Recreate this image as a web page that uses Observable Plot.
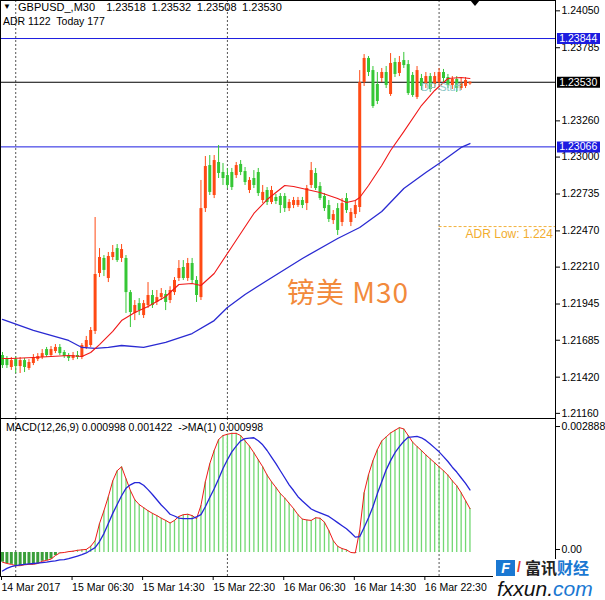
<!DOCTYPE html>
<html><head><meta charset="utf-8">
<script src="https://cdn.jsdelivr.net/npm/d3@7"></script>
<script src="https://cdn.jsdelivr.net/npm/@observablehq/plot@0.6"></script>
<style>
body{margin:0;background:#fff;}
#wrap{position:relative;width:605px;height:600px;overflow:hidden;font-family:"Liberation Sans",Arial,sans-serif;color:#000;}
.abs{position:absolute;white-space:pre;line-height:1.15;}
#wrap svg{position:absolute;left:0;overflow:visible;}
</style></head><body><div id="wrap"></div>
<script>
// ---- data ----
const opens = [1.21568,1.21547,1.21482,1.21539,1.21489,1.21532,1.21475,1.21511,1.21539,1.21554,
1.21611,1.21568,1.21597,1.21626,1.21590,1.21568,1.21547,1.21568,1.21554,1.21626,
1.21640,1.21741,1.22157,1.22265,1.22121,1.22272,1.22336,1.22265,1.22265,1.22020,
1.21870,1.21941,1.21855,1.21927,1.21999,1.21949,1.21984,1.22006,1.21963,1.22020,
1.22121,1.22200,1.22121,1.22229,1.22107,1.21984,1.22623,1.22932,1.22717,1.22954,
1.22882,1.22860,1.22882,1.22860,1.22940,1.22889,1.22753,1.22839,1.22882,1.22681,
1.22753,1.22667,1.22703,1.22710,1.22710,1.22623,1.22645,1.22645,1.22681,1.22659,
1.22789,1.22875,1.22782,1.22710,1.22645,1.22537,1.22623,1.22523,1.22695,1.22523,
1.22580,1.22631,1.23528,1.23701,1.23614,1.23514,1.23557,1.23600,1.23442,1.23672,
1.23593,1.23686,1.23657,1.23579,1.23421,1.23557,1.23514,1.23571,1.23514,1.23528,
1.23600,1.23564,1.23507,1.23550,1.23485,1.23500,1.23518];
const closes = [1.21496,1.21496,1.21532,1.21489,1.21532,1.21482,1.21518,1.21554,1.21561,1.21582,
1.21568,1.21611,1.21626,1.21582,1.21561,1.21547,1.21568,1.21554,1.21640,1.21676,
1.21748,1.22150,1.22272,1.22179,1.22279,1.22308,1.22250,1.22329,1.22020,1.21877,
1.21927,1.21891,1.21941,1.21999,1.21927,1.21984,1.22013,1.21949,1.22035,1.22107,
1.22193,1.22121,1.22229,1.22107,1.21999,1.22623,1.22925,1.22739,1.22968,1.22875,
1.22839,1.22789,1.22774,1.22932,1.22882,1.22810,1.22825,1.22789,1.22731,1.22739,
1.22667,1.22753,1.22674,1.22645,1.22623,1.22667,1.22681,1.22681,1.22645,1.22767,
1.22896,1.22767,1.22695,1.22623,1.22545,1.22580,1.22466,1.22659,1.22609,1.22595,
1.22645,1.23528,1.23701,1.23600,1.23356,1.23392,1.23600,1.23507,1.23665,1.23586,
1.23672,1.23650,1.23449,1.23435,1.23614,1.23500,1.23571,1.23478,1.23571,1.23600,
1.23557,1.23507,1.23550,1.23485,1.23521,1.23543,1.23530];
const highs = [1.21590,1.21561,1.21554,1.21561,1.21554,1.21547,1.21539,1.21575,1.21582,1.21611,
1.21626,1.21633,1.21647,1.21647,1.21604,1.21582,1.21590,1.21597,1.21654,1.21705,
1.21769,1.22559,1.22336,1.22286,1.22308,1.22358,1.22365,1.22365,1.22286,1.22035,
1.21963,1.21977,1.21963,1.22092,1.22035,1.22035,1.22049,1.22035,1.22062,1.22128,
1.22250,1.22250,1.22265,1.22265,1.22135,1.22825,1.22997,1.23004,1.23004,1.23076,
1.22947,1.22911,1.22911,1.22954,1.22968,1.22918,1.22846,1.22896,1.22911,1.22789,
1.22774,1.22782,1.22724,1.22731,1.22731,1.22688,1.22703,1.22703,1.22703,1.22789,
1.22954,1.22911,1.22810,1.22731,1.22681,1.22609,1.22659,1.22695,1.22731,1.22623,
1.22681,1.23614,1.23729,1.23715,1.23643,1.23600,1.23629,1.23643,1.23736,1.23701,
1.23715,1.23744,1.23686,1.23600,1.23643,1.23586,1.23600,1.23593,1.23600,1.23629,
1.23622,1.23586,1.23571,1.23571,1.23557,1.23564,1.23532];
const lows = [1.21475,1.21475,1.21461,1.21439,1.21439,1.21446,1.21461,1.21496,1.21525,1.21539,
1.21554,1.21554,1.21582,1.21568,1.21547,1.21525,1.21532,1.21539,1.21539,1.21611,
1.21626,1.21719,1.22128,1.22135,1.22092,1.22250,1.22236,1.22236,1.21870,1.21769,
1.21819,1.21855,1.21834,1.21906,1.21906,1.21927,1.21963,1.21891,1.21941,1.21999,
1.22100,1.22107,1.22100,1.22085,1.21949,1.21963,1.22595,1.22717,1.22695,1.22839,
1.22789,1.22767,1.22753,1.22839,1.22860,1.22789,1.22731,1.22767,1.22710,1.22659,
1.22645,1.22652,1.22652,1.22588,1.22595,1.22602,1.22623,1.22631,1.22623,1.22609,
1.22767,1.22753,1.22681,1.22602,1.22523,1.22509,1.22430,1.22494,1.22588,1.22494,
1.22552,1.22595,1.23500,1.23571,1.23342,1.23370,1.23528,1.23485,1.23428,1.23564,
1.23571,1.23629,1.23435,1.23421,1.23406,1.23471,1.23485,1.23457,1.23485,1.23507,
1.23528,1.23485,1.23478,1.23457,1.23471,1.23485,1.23508];

const redMaIdx = [0,2,7,11,15,18,20,22,25,27,30,33,37,40,43,45,48,51,54,57,60,64,66,68,70,72,76,78,80,81,83,86,88,91,95,98,101,104,106];
const redMaVal = [1.21547,1.21547,1.21554,1.21561,1.21568,1.21561,1.21590,1.21647,1.21741,1.21819,
1.21877,1.21920,1.21992,1.22078,1.22085,1.22071,1.22157,1.22301,1.22444,1.22588,
1.22688,1.22789,1.22782,1.22767,1.22753,1.22739,1.22695,1.22667,1.22681,1.22703,
1.22789,1.22932,1.23040,1.23176,1.23363,1.23471,1.23557,1.23564,1.23557];
const blueMaIdx = [0,7,15,18,21,24,27,32,37,43,48,51,55,60,68,76,81,86,91,96,99,104,106];
const blueMaVal = [1.21827,1.21748,1.21676,1.21626,1.21619,1.21626,1.21640,1.21626,1.21662,1.21726,
1.21819,1.21913,1.22006,1.22107,1.22265,1.22408,1.22487,1.22602,1.22767,1.22882,1.22947,1.23062,1.23090];

const macd = [-0.00022,-0.00025,-0.00027,-0.00030,-0.00030,-0.00028,-0.00027,-0.00027,-0.00025,-0.00020,
-0.00018,-0.00015,-0.00007,-0.00001,0.00000,0.00002,0.00003,0.00005,0.00006,0.00007,
0.00014,0.00027,0.00066,0.00095,0.00127,0.00163,0.00186,0.00195,0.00168,0.00141,
0.00120,0.00109,0.00102,0.00095,0.00089,0.00084,0.00078,0.00073,0.00067,0.00073,
0.00082,0.00086,0.00087,0.00084,0.00077,0.00107,0.00161,0.00202,0.00232,0.00257,
0.00266,0.00269,0.00271,0.00271,0.00266,0.00254,0.00242,0.00227,0.00211,0.00195,
0.00176,0.00161,0.00148,0.00134,0.00124,0.00112,0.00100,0.00086,0.00076,0.00074,
0.00073,0.00079,0.00078,0.00069,0.00050,0.00027,0.00014,0.00009,0.00006,0.00000,
-0.00001,0.00050,0.00136,0.00177,0.00209,0.00234,0.00254,0.00263,0.00272,0.00278,
0.00284,0.00281,0.00266,0.00251,0.00241,0.00232,0.00222,0.00213,0.00204,0.00195,
0.00186,0.00176,0.00163,0.00152,0.00136,0.00118,0.000998];
const signal = [-0.00042,-0.00036,-0.00032,-0.00030,-0.00028,-0.00027,-0.00026,-0.00025,-0.00024,-0.00023,
-0.00022,-0.00020,-0.00019,-0.00017,-0.00016,-0.00014,-0.00011,-0.00008,-0.00005,-0.00001,
0.00005,0.00011,0.00025,0.00043,0.00066,0.00089,0.00109,0.00129,0.00146,0.00154,
0.00159,0.00159,0.00153,0.00143,0.00132,0.00120,0.00108,0.00098,0.00087,0.00083,
0.00078,0.00077,0.00077,0.00077,0.00081,0.00086,0.00104,0.00125,0.00145,0.00167,
0.00191,0.00211,0.00229,0.00242,0.00254,0.00259,0.00260,0.00261,0.00254,0.00245,
0.00232,0.00217,0.00202,0.00186,0.00170,0.00154,0.00141,0.00127,0.00117,0.00108,
0.00099,0.00094,0.00090,0.00086,0.00082,0.00075,0.00068,0.00061,0.00054,0.00045,
0.00035,0.00036,0.00057,0.00079,0.00104,0.00134,0.00161,0.00188,0.00209,0.00227,
0.00241,0.00253,0.00262,0.00263,0.00264,0.00261,0.00255,0.00247,0.00238,0.00229,
0.00218,0.00207,0.00194,0.00183,0.00170,0.00157,0.001422];

const lineLevels = [1.23844, 1.23066];
const currentPrice = 1.23530;
const adrLow = 1.22494;
const priceTicks = [1.24050,1.23785,1.23260,1.23000,1.22735,1.22470,1.22210,1.21945,1.21685,1.21420,1.21160];
const macdTicks = [0.002888, 0];
const macdTickLabels = ["0.002888", "0.00"];
const timeTickIdx = [0,16,32,48,64,80,96];
const timeTickLabels = ["14 Mar 2017","15 Mar 06:30","15 Mar 14:30","15 Mar 22:30","16 Mar 06:30","16 Mar 14:30","16 Mar 22:30"];
const separatorIdx = [3,51,99];

// ---- drawing ----
const UP = "#ff4a14", DN = "#35c735";
const N = opens.length;
const bars = d3.range(N).map(i => ({i, o: opens[i], h: highs[i], l: lows[i], c: closes[i]}));
const xDomain = [-0.4535, 125.397];
const boxX1 = 125.85, boxX2 = 135.6, boxTextX = 126.25;
const font = {fontFamily: "'Liberation Sans', Arial, sans-serif", fontSize: "10.5px", background: "transparent", overflow: "visible"};
const wrap = document.getElementById("wrap");

const main = Plot.plot({
  width: 605, height: 418, marginLeft: 0, marginRight: 50, marginTop: 0, marginBottom: 0,
  x: {domain: xDomain, axis: null},
  y: {domain: [1.21116, 1.24117], axis: null},
  style: font,
  marks: [
    Plot.ruleX(separatorIdx, {stroke: "#555", strokeDasharray: "2,2"}),
    Plot.ruleY(lineLevels, {stroke: "#1c1ce0"}),
    Plot.ruleY([currentPrice], {stroke: "#000"}),
    Plot.ruleY([adrLow], {x1: separatorIdx[2], x2: xDomain[1], stroke: "#f2b13a", strokeDasharray: "3,2"}),
    Plot.text([adrLow], {x: 105, y: d => d, dy: 8, text: d => "ADR Low: " + String(d).slice(0, 5), textAnchor: "start", fill: "#f2ad2e", clip: "frame", fontSize: 12}),
    Plot.ruleX(bars, {x: "i", y1: "l", y2: "h", stroke: d => d.c >= d.o ? UP : DN, strokeWidth: 1}),
    Plot.ruleX(bars, {x: "i", y1: "o", y2: d => d.c === d.o ? d.o + 0.00001 : d.c, stroke: d => d.c >= d.o ? UP : DN, strokeWidth: 3}),
    Plot.line(blueMaIdx, {x: d => d, y: (d, k) => blueMaVal[k], stroke: "#2a2ad2", strokeWidth: 1.3}),
    Plot.line(redMaIdx, {x: d => d, y: (d, k) => redMaVal[k], stroke: "#f01818", strokeWidth: 1.1}),
    Plot.axisY(priceTicks, {anchor: "right", tickSize: 4, tickPadding: 2, tickFormat: d3.format(".5f"), dy: 1, fill: "#000"}),
    Plot.ruleY(lineLevels, {x1: boxX1, x2: boxX2, stroke: "#1c1ce0", strokeWidth: 11}),
    Plot.ruleY([currentPrice], {x1: boxX1, x2: boxX2, stroke: "#000", strokeWidth: 11}),
    Plot.text(lineLevels.concat([currentPrice]), {x: boxTextX, y: d => d, text: d => d3.format(".5f")(d), textAnchor: "start", fill: "#fff", fontSize: 10.5}),
    Plot.frame({stroke: "#000"})
  ]
});
main.style.top = "0px";
wrap.appendChild(main);

const sub = Plot.plot({
  width: 605, height: 182, marginLeft: 0, marginRight: 50, marginTop: 0, marginBottom: 24,
  x: {domain: xDomain, axis: null},
  y: {domain: [-0.000546, 0.003048], axis: null},
  style: font,
  marks: [
    Plot.ruleX(separatorIdx, {stroke: "#555", strokeDasharray: "2,2"}),
    Plot.ruleX(d3.range(N), {x: d => d, y1: 0, y2: d => macd[d], stroke: d => macd[d] >= 0 ? "#72d872" : "#3a9e3a", strokeWidth: d => macd[d] >= 0 ? 1.3 : 3}),
    Plot.line(d3.range(N), {x: d => d, y: d => macd[d], stroke: "#f01818", strokeWidth: 1}),
    Plot.line(d3.range(N), {x: d => d, y: d => signal[d], stroke: "#2626d8", strokeWidth: 1.3}),
    Plot.axisY(macdTicks.slice(0, 1), {anchor: "right", tickSize: 4, tickPadding: 2, tickFormat: () => macdTickLabels[0], dy: 1, fill: "#000"}),
    Plot.axisY(macdTicks.slice(1), {anchor: "right", tickSize: 4, tickPadding: 2, tickFormat: () => macdTickLabels[1], dy: -3, fill: "#000"}),
    Plot.axisX(timeTickIdx, {anchor: "bottom", tickSize: 4, tickPadding: 3, textAnchor: "start", dx: -1, tickFormat: d => timeTickLabels[timeTickIdx.indexOf(d)], fill: "#000"}),
    Plot.frame({stroke: "#000"})
  ]
});
sub.style.top = "418px";
wrap.appendChild(sub);

function addText(txt, left, top, css) {
  const el = document.createElement("div");
  el.className = "abs";
  el.textContent = txt;
  el.style.left = left + "px"; el.style.top = top + "px";
  Object.assign(el.style, css || {});
  wrap.appendChild(el);
  return el;
}
addText("▼", 3, 2, {fontSize: "8px"});
addText("GBPUSD_,M30  1.23518 1.23532 1.23508 1.23530", 18, 1, {fontSize: "11px", wordSpacing: "2.5px"});
addText("ADR 1122  Today 177", 3, 15, {fontSize: "10.5px"});
addText("MACD(12,26,9) 0.000998 0.001422  ->MA(1) 0.000998", 6, 421, {fontSize: "10.5px"});
addText("镑美 M30", 287, 277, {fontSize: "28px", letterSpacing: "1px", lineHeight: "1", color: "#f28a3c", fontFamily: "'Noto Sans CJK SC', 'Noto Sans', sans-serif"});
addText("DP Stuff", 421, 81, {fontSize: "11px", color: "#8cc6c6"});

const tri = document.createElement("div");
Object.assign(tri.style, {position: "absolute", left: "470px", top: "0px", width: "0", height: "0",
  borderLeft: "5px solid transparent", borderRight: "5px solid transparent", borderTop: "6px solid #000"});
wrap.appendChild(tri);

// fxxun watermark
const logo = document.createElement("div");
Object.assign(logo.style, {position: "absolute", left: "493px", top: "559px", width: "112px", height: "41px", background: "#fff"});
logo.innerHTML =
  '<div style="position:absolute;left:3px;top:1px;width:19px;height:16px;background:#1a78d2;color:#fff;font:bold italic 14px/16px \'Liberation Sans\',Arial;text-align:center;">F</div>' +
  '<div style="position:absolute;left:24px;top:0px;color:#e83a2a;font:bold 14px/17px \'Liberation Sans\',Arial;">/</div>' +
  '<div style="position:absolute;left:32px;top:0px;white-space:nowrap;font:bold 16px/17px \'Noto Sans CJK SC\',serif;"><span style="color:#222">富讯</span><span style="color:#1a78d2">财经</span></div>' +
  '<div style="position:absolute;left:4px;top:19px;white-space:nowrap;font:italic 21px/21px \'Liberation Sans\',Arial;"><span style="color:#111">fxxun.</span><span style="color:#1a78d2">com</span></div>';
wrap.appendChild(logo);
</script></body></html>
